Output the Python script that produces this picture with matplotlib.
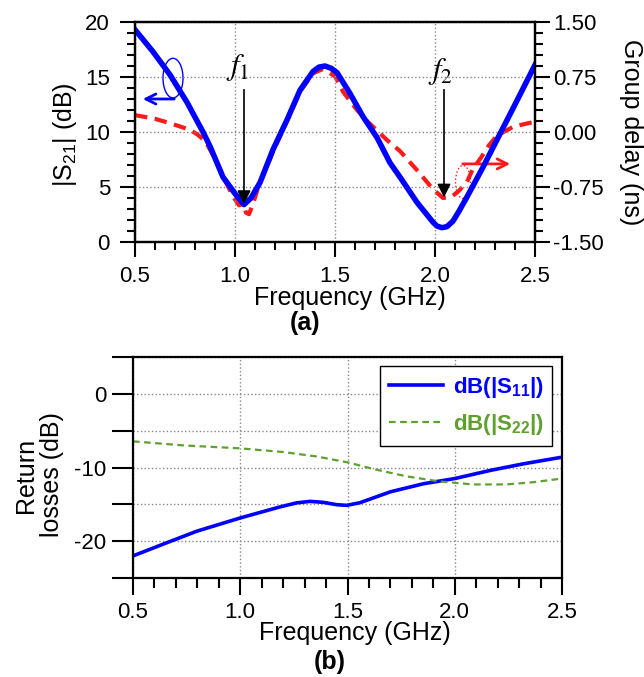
import numpy as np
import matplotlib
matplotlib.use("Agg")
import matplotlib.pyplot as plt
from matplotlib.ticker import MultipleLocator, FormatStrFormatter
from matplotlib.patches import Ellipse

plt.rcParams['font.family'] = ['Liberation Sans', 'DejaVu Sans']
plt.rcParams['mathtext.fontset'] = 'custom'
plt.rcParams['mathtext.rm'] = 'Liberation Sans'
plt.rcParams['mathtext.it'] = 'Liberation Sans:italic'
plt.rcParams['mathtext.bf'] = 'Liberation Sans:bold'
plt.rcParams['mathtext.default'] = 'rm'
plt.rcParams['axes.unicode_minus'] = False

# ---- (a) transmission and group delay ----
f_s21 = [0.5, 0.59, 0.675, 0.76, 0.84, 0.875, 0.94, 1.0, 1.045, 1.08, 1.125,
         1.19, 1.26, 1.325, 1.39, 1.42, 1.45, 1.48, 1.51, 1.575, 1.64, 1.71,
         1.775, 1.825, 1.91, 1.99, 2.01, 2.035, 2.06, 2.09, 2.12, 2.16, 2.24,
         2.31, 2.4, 2.5]
s21_db = [19.3, 17.3, 15.2, 12.7, 10.0, 8.7, 5.9, 4.4, 3.4, 4.0, 5.4,
          8.4, 11.1, 13.8, 15.5, 15.9, 16.0, 15.8, 15.4, 13.5, 11.4, 9.5,
          7.2, 5.9, 3.6, 1.8, 1.45, 1.3, 1.4, 1.9, 2.8, 4.1, 6.8,
          9.3, 12.5, 16.1]

f_gd = [0.5, 0.6, 0.675, 0.775, 0.81, 0.85, 0.9, 0.95, 0.99, 1.02, 1.04,
        1.055, 1.07, 1.09, 1.12, 1.19, 1.26, 1.325, 1.39, 1.44, 1.5, 1.54,
        1.61, 1.66, 1.71, 1.76, 1.825, 1.91, 1.99, 2.04, 2.085, 2.12, 2.16,
        2.19, 2.23, 2.27, 2.31, 2.39, 2.45, 2.5]
gd_ns = [0.23, 0.18, 0.12, 0.03, -0.03, -0.12, -0.36, -0.66, -0.88, -1.0, -0.98,
         -1.1, -1.12, -0.98, -0.72, -0.27, 0.15, 0.55, 0.8, 0.86, 0.76, 0.55,
         0.30, 0.15, 0.02, -0.11, -0.26, -0.52, -0.78, -0.9, -0.88, -0.8, -0.68,
         -0.5, -0.35, -0.18, -0.05, 0.07, 0.11, 0.14]

f1, f2 = 1.045, 2.045

# ---- (b) return losses ----
f_s11 = [0.5, 0.641, 0.797, 1.0, 1.185, 1.263, 1.325, 1.387, 1.45, 1.496, 1.558,
         1.7, 1.855, 2.0, 2.165, 2.32, 2.5]
s11_db = [-22.0, -20.4, -18.65, -16.85, -15.35, -14.8, -14.6, -14.73, -15.05,
          -15.14, -14.78, -13.3, -12.2, -11.5, -10.4, -9.5, -8.6]
f_s22 = [0.5, 0.735, 1.0, 1.2, 1.355, 1.5, 1.62, 1.775, 1.93, 2.085, 2.24, 2.365, 2.5]
s22_db = [-6.45, -7.0, -7.4, -7.9, -8.5, -9.3, -10.2, -11.2, -11.9, -12.3, -12.3,
          -12.0, -11.5]

W, H = 644, 677
fig = plt.figure(figsize=(W / 100, H / 100), dpi=100)

def box(l, t, r, b):
    return [l / W, 1 - b / H, (r - l) / W, (b - t) / H]

def style(ax):
    for s in ax.spines.values():
        s.set_linewidth(1.6)
    ax.tick_params(which='both', direction='out', width=1.5, labelsize=16)
    ax.tick_params(which='major', length=11)
    ax.tick_params(which='minor', length=6)

blue = '#0000ff'
red = '#ff1a1a'
green = '#5fa030'

ax1 = fig.add_axes(box(135, 22, 535, 242))
ax2 = ax1.twinx()
ax1.set_zorder(ax2.get_zorder() + 1)
ax1.patch.set_visible(False)

ax2.plot(f_gd, gd_ns, color=red, lw=3, dashes=(3, 1.8))
ax1.plot(f_s21, s21_db, color=blue, lw=4)

ax1.set_xlim(0.5, 2.5)
ax1.set_ylim(0, 20)
ax2.set_ylim(-1.5, 1.5)
ax1.set_xticks(np.arange(0.5, 2.51, 0.5))
ax1.xaxis.set_minor_locator(MultipleLocator(0.1))
ax1.xaxis.set_major_formatter(FormatStrFormatter('%.1f'))
ax1.set_yticks([0, 5, 10, 15, 20])
ax1.yaxis.set_minor_locator(MultipleLocator(1))
ax2.set_yticks([-1.5, -0.75, 0, 0.75, 1.5])
ax2.yaxis.set_minor_locator(MultipleLocator(0.15))
ax2.yaxis.set_major_formatter(FormatStrFormatter('%.2f'))
ax1.grid(True, which='major', linestyle=':', color='#888888', lw=1)
style(ax1)
style(ax2)
ax1.tick_params(axis='x', pad=6)
ax1.tick_params(axis='y', pad=7)
ax2.tick_params(axis='y', pad=2)

# markers f1 / f2
arrow_k = dict(arrowstyle='-|>', color='k', lw=1.2, mutation_scale=20)
ax1.annotate('', xy=(f1, 3.2), xytext=(f1, 14.1), arrowprops=arrow_k)
ax1.annotate('', xy=(f2, 3.8), xytext=(f2, 14.1), arrowprops=arrow_k)
ax1.text(f1 - 0.03, 15.9, r'$\mathit{f_1}$', math_fontfamily='stix',
         fontsize=22, ha='center', va='center')
ax1.text(f2 - 0.015, 15.5, r'$\mathit{f_2}$', math_fontfamily='stix',
         fontsize=22, ha='center', va='center')

# axis indicators
ax1.add_patch(Ellipse((0.69, 14.9), 0.1, 3.6, fill=False, ec=blue, lw=1))
ax1.annotate('', xy=(0.525, 13.0), xytext=(0.71, 13.0),
             arrowprops=dict(arrowstyle='->', color=blue, lw=2, mutation_scale=18))
ax2.add_patch(Ellipse((2.14, -0.68), 0.075, 0.45, fill=False, ec=red, lw=1, ls=':'))
ax2.annotate('', xy=(2.39, -0.435), xytext=(2.125, -0.435),
             arrowprops=dict(arrowstyle='->', color=red, lw=2, mutation_scale=18))

fig.text(65 / W, 1 - 135 / H, r'|S$_{21}$| (dB)', rotation=90, fontsize=18,
         ha='center', va='center')
fig.text(643 / W, 1 - 132 / H, 'Group delay (ns)', rotation=-90, fontsize=18,
         ha='right', va='center')
fig.text(350 / W, 1 - 298 / H, 'Frequency (GHz)', fontsize=18, ha='center', va='center')
fig.text(305 / W, 1 - 323 / H, '(a)', fontsize=18, fontweight='bold',
         ha='center', va='center')

# ---- (b) ----
ax3 = fig.add_axes(box(133, 357, 562, 578))
ax3.plot(f_s11, s11_db, color=blue, lw=2.6, label=r'dB(|S$_\mathbf{11}$|)')
ax3.plot(f_s22, s22_db, color=green, lw=1.6, dashes=(3, 2), label=r'dB(|S$_\mathbf{22}$|)')
ax3.set_xlim(0.5, 2.5)
ax3.set_ylim(-25, 5)
ax3.set_xticks(np.arange(0.5, 2.51, 0.5))
ax3.xaxis.set_minor_locator(MultipleLocator(0.1))
ax3.xaxis.set_major_formatter(FormatStrFormatter('%.1f'))
ax3.set_yticks([-20, -10, 0])
ax3.yaxis.set_minor_locator(MultipleLocator(5))
ax3.grid(True, which='both', axis='y', linestyle=':', color='#888888', lw=1)
ax3.grid(True, which='major', axis='x', linestyle=':', color='#888888', lw=1)
style(ax3)
ax3.tick_params(axis='y', which='both', length=15, pad=4)
ax3.tick_params(axis='x', which='major', length=12, pad=5)
ax3.tick_params(axis='x', which='minor', length=7)

leg = ax3.legend(loc='upper right', bbox_to_anchor=(0.977, 0.959), borderaxespad=0,
                 prop={'weight': 'bold', 'size': 16}, fancybox=False,
                 edgecolor='k', framealpha=1, handlelength=2.4, handletextpad=0.45,
                 labelspacing=0.55, borderpad=0.4)
leg.get_frame().set_linewidth(1)
for txt, c in zip(leg.get_texts(), [blue, green]):
    txt.set_color(c)

fig.text(39 / W, 1 - 475 / H, 'Return\nlosses (dB)', rotation=90, fontsize=18,
         ha='center', va='center', multialignment='center', linespacing=1.1)
fig.text(355 / W, 1 - 633 / H, 'Frequency (GHz)', fontsize=18, ha='center', va='center')
fig.text(330 / W, 1 - 662 / H, '(b)', fontsize=18, fontweight='bold',
         ha='center', va='center')

fig.savefig('out.png', dpi=100)
